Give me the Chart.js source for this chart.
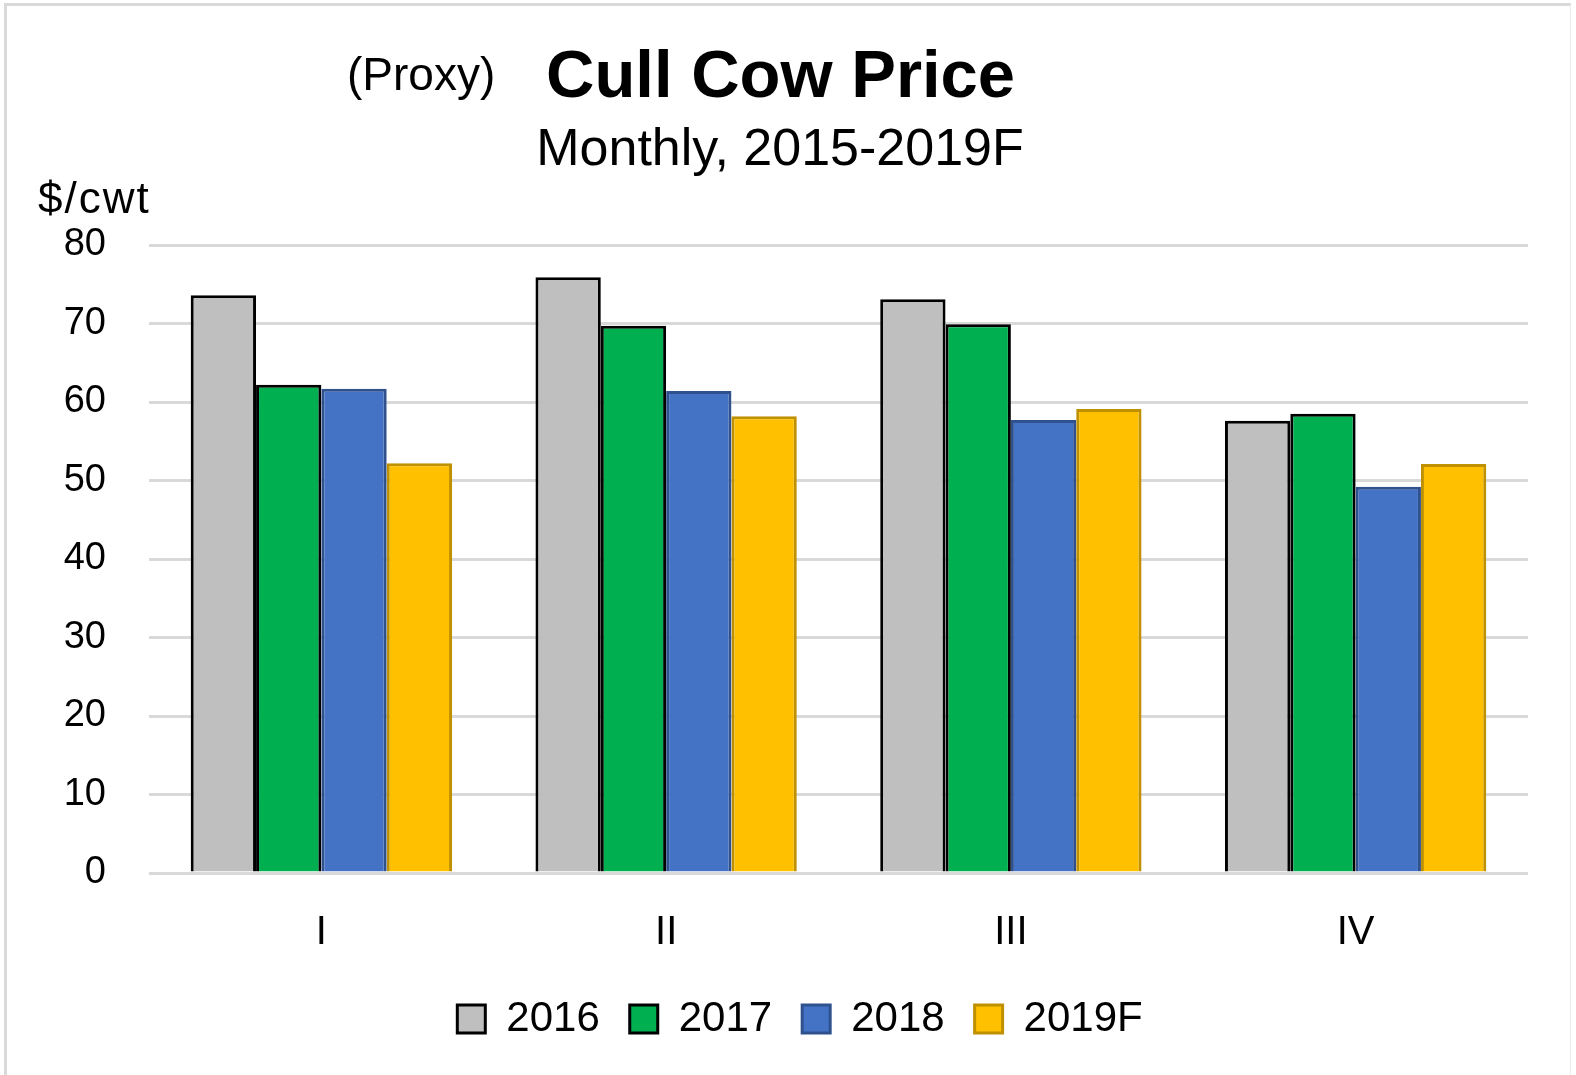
<!DOCTYPE html>
<html>
<head>
<meta charset="utf-8">
<script src="https://cdn.jsdelivr.net/npm/chart.js@4/dist/chart.umd.min.js"></script>
<style>
  html, body { margin: 0; padding: 0; background: #fff; }
  body { width: 1576px; height: 1075px; position: relative; overflow: hidden; font-family: "Liberation Sans", Arial, sans-serif; }
  #frame { position: absolute; left: 4px; top: 3px; width: 1567px; height: 1080px; border-left: 3px solid #D9D9D9; border-top: 3px solid #D9D9D9; border-right: 1px solid #EBEBEB; box-sizing: border-box; }
  #wrap { position: absolute; left: 0; top: 0; width: 1576px; height: 1075px; }
  .t { position: absolute; white-space: nowrap; color: #000; line-height: 1; }
  #proxy { left: 347px; top: 51px; font-size: 46px; }
  #title { left: 546px; top: 40px; font-size: 67px; font-weight: bold; }
  #subtitle { left: 780px; top: 121px; font-size: 52px; transform: translateX(-50%); }
  #unit { left: 38px; top: 176px; font-size: 44px; letter-spacing: 2px; }
</style>
</head>
<body>
<div id="frame"></div>
<div id="wrap"><canvas id="c" width="1576" height="1075"></canvas></div>
<div class="t" id="proxy">(Proxy)</div>
<div class="t" id="title">Cull Cow Price</div>
<div class="t" id="subtitle">Monthly, 2015-2019F</div>
<div class="t" id="unit">$/cwt</div>
<script>
const categories = ["I", "II", "III", "IV"];
const seriesNames = ["2016", "2017", "2018", "2019F"];
const values2016 = [73.6, 75.9, 73.1, 57.6];
const values2017 = [62.2, 69.7, 69.9, 58.5];
const values2018 = [61.7, 61.4, 57.7, 49.2];
const values2019F = [52.2, 58.2, 59.1, 52.1];
const yTicks = [0, 10, 20, 30, 40, 50, 60, 70, 80];

const fills = ["#BFBFBF", "#00B050", "#4472C4", "#FFC000"];
const borders = ["#000000", "#000000", "#2F528F", "#BF9000"];
const allValues = [values2016, values2017, values2018, values2019F];

const datasets = seriesNames.map((n, i) => ({
  label: n,
  data: allValues[i],
  backgroundColor: fills[i],
  borderColor: borders[i],
  borderWidth: 3,
  borderSkipped: 'bottom',
  categoryPercentage: 0.758,
  barPercentage: 1.0
}));

const FONT = "'Liberation Sans', Arial, sans-serif";

const legendShift = {
  id: 'legendShift',
  afterLayout(chart) {
    if (chart.legend) { chart.legend.left += 72; }
  }
};

new Chart(document.getElementById('c'), {
  type: 'bar',
  data: { labels: categories, datasets },
  plugins: [legendShift],
  options: {
    responsive: false,
    animation: false,
    devicePixelRatio: 1,
    layout: { padding: { top: 245, left: 0, right: 48, bottom: 25 } },
    plugins: {
      title: { display: false },
      tooltip: { enabled: false },
      legend: {
        display: true,
        position: 'bottom',
        labels: {
          color: '#000',
          font: { family: FONT, size: 42 },
          boxWidth: 28,
          boxHeight: 28,
          padding: 30
        }
      }
    },
    scales: {
      x: {
        grid: { display: false, drawTicks: false },
        border: { display: false },
        ticks: { color: '#000', font: { family: FONT, size: 40 }, padding: 36, maxRotation: 0 },
        afterFit: (s) => { s.height = 95; }
      },
      y: {
        min: 0, max: 80,
        afterBuildTicks: (s) => { s.ticks = yTicks.map(v => ({ value: v })); },
        grid: { color: '#D9D9D9', lineWidth: 3, drawTicks: false },
        border: { display: false },
        ticks: { color: '#000', font: { family: FONT, size: 38 }, padding: 43 },
        afterFit: (s) => { s.width = 149; }
      }
    }
  }
});
</script>
</body>
</html>
